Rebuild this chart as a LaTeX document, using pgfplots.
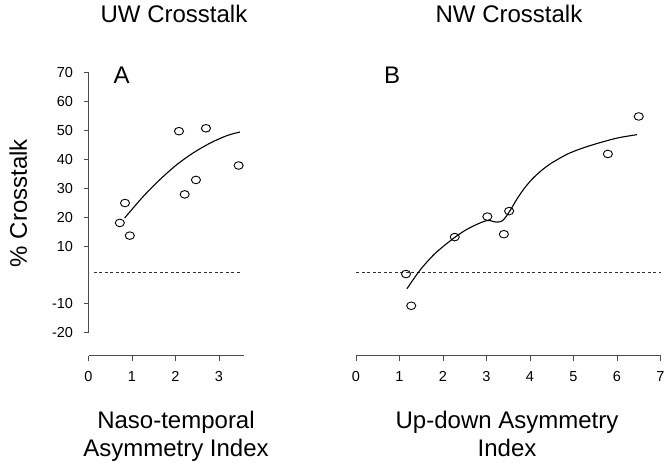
\documentclass[border=0pt]{standalone}
\usepackage{fontspec}
\setmainfont{Liberation Sans}
\usepackage{pgfplots}
\pgfplotsset{compat=1.18}
\begin{document}
\begin{tikzpicture}[x=1pt,y=1pt]
\useasboundingbox (0,0) rectangle (666,464);
\pgfplotsset{
  panel/.style={
    x=43.5pt, y=2.886pt, ymin=-28, ymax=72, xmin=0,
    anchor=south west, clip=false,
    axis x line*=bottom, axis y line*=left,
    x axis line style={-, line width=0.9pt, black!70},
    y axis line style={draw=none},
    tick align=outside, major tick length=5pt,
    tick style={line width=0.9pt, black!70},
    tick label style={font=\fontsize{14.5}{16}\selectfont},
    xticklabel style={yshift=-7pt},
    yticklabel style={xshift=-7pt},
    /pgf/number format/assume math mode=true,
  },
  fit/.style={black, line width=1.1pt, smooth, tension=0.5, mark=none},
  pts/.style={only marks, mark=o, mark size=3.8pt, mark options={fill=white, xscale=1.2, line width=0.9pt, black}},
  zero/.style={black!80, line width=0.9pt, dash pattern=on 3pt off 2.5pt, mark=none},
}
% Panel A
\begin{axis}[panel, at={(88.5pt,108.3pt)}, xmax=3.57, xtick={0,1,2,3}, ytick={-20,-10,10,20,30,40,50,60,70}]
\draw[line width=0.9pt, black!70] (axis cs:0,-20) -- (axis cs:0,70);
\addplot[zero] coordinates {(0.12,0.7) (3.48,0.7)};
\addplot[fit] coordinates {(0.83,19.7) (1.26,27.2) (1.64,33.0) (2.03,38.2) (2.41,42.3) (2.80,45.7) (3.19,48.3) (3.48,49.5)};
\addplot[pts] coordinates {(0.72,18.0) (0.84,24.9) (0.95,13.6) (2.08,49.8) (2.21,27.9) (2.47,32.9) (2.70,50.8) (3.45,37.9)};
\node[anchor=base, font=\fontsize{24}{28}\selectfont] at (axis cs:0.76,66.2) {A};
\end{axis}
% Panel B
\begin{axis}[panel, at={(356pt,108.3pt)}, xmax=7, xtick={0,1,...,7}, ytick=\empty]
\addplot[zero] coordinates {(0.0,0.7) (7.0,0.7)};
\addplot[fit] coordinates {(1.17,-4.8) (1.48,1.8) (1.83,7.6) (2.28,13.1) (2.60,16.2) (3.00,18.8) (3.22,18.3) (3.37,18.8) (3.53,22.0) (3.70,26.3) (3.87,30.0) (4.05,33.2) (4.25,36.0) (4.49,38.7) (4.88,42.0) (5.26,44.2) (5.65,46.0) (6.03,47.5) (6.46,48.6)};
\addplot[pts] coordinates {(1.15,0.3) (1.27,-10.7) (2.27,13.1) (3.02,20.2) (3.40,14.1) (3.52,22.1) (5.79,41.9) (6.50,54.9)};
\node[anchor=base, font=\fontsize{24}{28}\selectfont] at (axis cs:0.83,66.2) {B};
\end{axis}
% titles and labels
\node[anchor=base, font=\fontsize{24}{28}\selectfont] at (174,441) {UW Crosstalk};
\node[anchor=base, font=\fontsize{24}{28}\selectfont] at (509,441) {NW Crosstalk};
\node[anchor=base, rotate=90, font=\fontsize{24}{28}\selectfont] at (27,261) {\% Crosstalk};
\node[anchor=base, font=\fontsize{24}{28}\selectfont] at (176,36) {Naso-temporal};
\node[anchor=base, font=\fontsize{24}{28}\selectfont] at (176,8) {Asymmetry Index};
\node[anchor=base, font=\fontsize{24}{28}\selectfont] at (507,36) {Up-down Asymmetry};
\node[anchor=base, font=\fontsize{24}{28}\selectfont] at (507,8) {Index};
\end{tikzpicture}
\end{document}
